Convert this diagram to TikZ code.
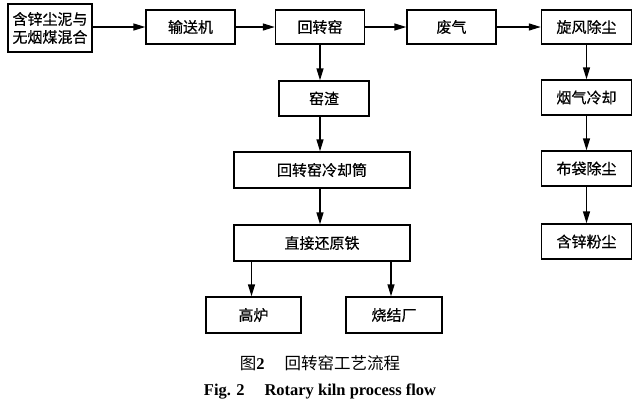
\documentclass[tikz,border=0pt]{standalone}
\usepackage{fontspec}
\setmainfont{Liberation Serif}
\newfontfamily\cjk[FakeBold=0.5]{Noto Sans CJK SC}
\newfontfamily\cjkcap{Noto Sans CJK SC}
\usetikzlibrary{arrows.meta}
\begin{document}
\begin{tikzpicture}[x=1pt,y=-1pt,
  box/.style={draw, line width=1.4pt, inner sep=0pt, font=\cjk\fontsize{15}{18}\selectfont, align=center},
  arr/.style={line width=1.4pt, -{Triangle[length=12pt,width=7pt]}}]
\useasboundingbox (0,0) rectangle (640,405);
\fill[white] (0,0) rectangle (640,405);
\node[box, minimum width=84pt, minimum height=48pt] (mix) at (50,28) {含锌尘泥与\\无烟煤混合};
\node[box, minimum width=89pt, minimum height=34pt] (conv) at (190.5,27) {输送机};
\node[box, minimum width=89pt, minimum height=34pt] (kiln) at (320,27) {回转窑};
\node[box, minimum width=89pt, minimum height=34pt] (gas) at (451.5,27) {废气};
\node[box, minimum width=90pt, minimum height=34pt] (cyc) at (586.5,27) {旋风除尘};
\node[box, minimum width=90pt, minimum height=35pt] (slag) at (324,98.5) {窑渣};
\node[box, minimum width=90pt, minimum height=35pt] (cool) at (586.5,97.5) {烟气冷却};
\node[box, minimum width=176pt, minimum height=36pt] (drum) at (322,170) {回转窑冷却筒};
\node[box, minimum width=176pt, minimum height=36pt] (dri) at (322,243) {直接还原铁};
\node[box, minimum width=95pt, minimum height=36pt] (bf) at (253.5,315) {高炉};
\node[box, minimum width=96pt, minimum height=36pt] (sin) at (394,315) {烧结厂};
\node[box, minimum width=90pt, minimum height=35pt] (bag) at (586.5,168.5) {布袋除尘};
\node[box, minimum width=90pt, minimum height=35pt] (dust) at (586.5,241.5) {含锌粉尘};

\draw[arr] (mix.east |- conv.west) -- (conv.west);
\draw[arr] (conv.east) -- (kiln.west);
\draw[arr] (kiln.east) -- (gas.west);
\draw[arr] (gas.east) -- (cyc.west);
\draw[arr] (kiln.south) -- (kiln.south |- slag.north);
\draw[arr] (slag.south -| kiln.south) -- (kiln.south |- drum.north);
\draw[arr] (drum.south -| kiln.south) -- (kiln.south |- dri.north);
\draw[arr] ([xshift=-2pt]dri.south -| bf.north) -- ([xshift=-2pt]bf.north);
\draw[arr] ([xshift=-3pt]dri.south -| sin.north) -- ([xshift=-3pt]sin.north);
\draw[arr] (cyc.south) -- (cool.north);
\draw[arr] (cool.south) -- (bag.north);
\draw[arr] (bag.south) -- (dust.north);

\node[font=\cjkcap\fontsize{16.5}{18}\selectfont] (cap1) at (320,363) {图{\rmfamily\bfseries 2}\hspace{1.2em}回转窑工艺流程};
\node[font=\rmfamily\bfseries\fontsize{16.5}{18}\selectfont] (cap2) at (320,392) {Fig. 2\hspace{1.2em}Rotary kiln process flow};
\end{tikzpicture}
\end{document}
